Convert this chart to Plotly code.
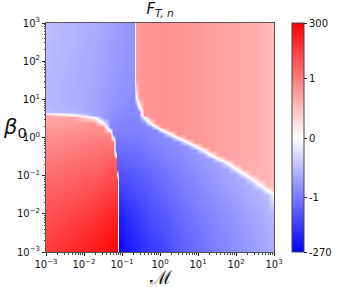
import numpy as np
import plotly.graph_objects as go

# grid nodes (log10 of axis values); nodes follow the sign-change curves seen in the picture
log_M = [-3, -2.3, -1.75, -1.49, -1.32, -1.23, -1.17, -1.13, -1.08, -0.9, -0.69, -0.63,
         -0.56, -0.43, -0.27, -0.11, 0.05, 0.26, 0.48, 0.70, 0.91, 1.13, 1.35, 1.56,
         1.78, 2.0, 2.21, 2.43, 2.64, 2.82, 3]
log_beta = [-3, -2, -1.5, -1.37, -1.24, -1.10, -0.96, -0.82, -0.68, -0.57, -0.46, -0.34,
            -0.22, -0.12, -0.02, 0.08, 0.20, 0.27, 0.39, 0.53, 0.60, 0.67, 0.81, 1.07,
            1.5, 2, 3]

# F_{T,n}, one list per beta_0 node (bottom to top)
F_m300 = [18.4, 42.5, 89.5, 143, 197, 238, 273, 300, -270, -106, -60.8, -50.5, -42.0, -28.9, -19.9, -16.5, -13.1, -7.85, -4.49, -2.96, -2.04, -1.40, -1.01, -0.942, -0.890, -0.837, -0.793, -0.748, -0.703, -0.658, -0.613]
F_m200 = [6.30, 12.1, 22.1, 33.6, 44.5, 53.6, 58.9, 64.6, -66.8, -33.2, -20.9, -18.1, -15.1, -11.4, -8.22, -6.22, -4.49, -3.10, -2.04, -1.40, -1.01, -0.950, -0.905, -0.852, -0.808, -0.763, -0.718, -0.673, -0.628, -0.583, -0.538]
F_m150 = [3.29, 5.74, 9.58, 13.9, 17.5, 20.2, 22.1, 23.2, -20.9, -13.1, -9.46, -8.22, -7.16, -5.67, -4.09, -3.24, -2.57, -1.77, -1.28, -0.980, -0.927, -0.875, -0.830, -0.785, -0.740, -0.695, -0.650, -0.606, -0.553, -0.516, 0]
F_m137 = [2.86, 4.77, 7.59, 11.0, 13.9, 16.0, 17.5, 18.4, -15.1, -10.4, -7.85, -7.16, -6.22, -4.71, -3.56, -2.83, -2.23, -1.61, -1.11, -0.965, -0.912, -0.860, -0.808, -0.763, -0.718, -0.673, -0.628, -0.583, -0.546, 0, 0.518]
F_m124 = [2.37, 3.96, 6.30, 8.73, 10.5, 12.1, 13.3, 13.9, -11.4, -8.22, -6.52, -5.94, -5.17, -4.09, -3.10, -2.45, -1.94, -1.40, -1.01, -0.942, -0.890, -0.845, -0.793, -0.748, -0.703, -0.658, -0.613, -0.576, 0, 0.555, 0.518]
F_m110 = [1.97, 3.14, 4.99, 6.60, 7.95, 9.14, 9.58, 10.0, -8.62, -6.52, -5.41, -4.93, -4.29, -3.40, -2.69, -2.13, -1.69, -1.22, -0.980, -0.927, -0.875, -0.830, -0.778, -0.733, -0.688, -0.643, -0.606, 0, 0.585, 0.555, 0.518]
F_m096 = [1.635, 2.60, 3.96, 5.23, 6.30, 6.92, 7.25, 0, -6.52, -5.17, -4.49, -4.09, -3.73, -2.96, -2.34, -1.86, -1.47, -1.06, -0.957, -0.905, -0.852, -0.808, -0.763, -0.718, -0.665, -0.628, 0, 0.615, 0.585, 0.555, 0.518]
F_m082 = [1.357, 2.06, 2.99, 4.15, 4.77, 5.23, 5.48, -4.93, -4.49, -3.91, -3.40, -3.24, -2.96, -2.34, -1.86, -1.54, -1.22, -0.987, -0.935, -0.882, -0.837, -0.785, -0.740, -0.695, -0.650, 0, 0.645, 0.615, 0.585, 0.555, 0.518]
F_m068 = [1.076, 1.635, 2.37, 3.14, 3.61, 3.96, 3.96, -3.73, -3.40, -2.96, -2.57, -2.45, -2.23, -1.86, -1.47, -1.22, -1.01, -0.957, -0.912, -0.860, -0.815, -0.770, -0.718, -0.680, 0, 0.675, 0.645, 0.615, 0.585, 0.555, 0.518]
F_m057 = [0.989, 1.357, 1.97, 2.60, 2.99, 3.14, 3.29, -2.96, -2.69, -2.45, -2.13, -2.04, -1.94, -1.61, -1.28, -1.06, -0.980, -0.942, -0.890, -0.845, -0.800, -0.755, -0.718, 0, 0.697, 0.675, 0.645, 0.615, 0.585, 0.555, 0.518]
F_m046 = [0.959, 1.13, 1.635, 2.06, 2.37, 2.37, 0, -2.34, -2.13, -1.94, -1.77, -1.69, -1.61, -1.34, -1.11, -0.987, -0.957, -0.912, -0.867, -0.823, -0.778, -0.740, 0, 0.72, 0.697, 0.675, 0.645, 0.615, 0.585, 0.555, 0.518]
F_m034 = [0.929, 0.989, 1.296, 1.635, 1.79, 1.71, -1.94, -1.77, -1.69, -1.54, -1.47, -1.40, -1.34, -1.17, -0.995, -0.972, -0.935, -0.897, -0.852, -0.815, -0.778, 0, 0.742, 0.72, 0.697, 0.675, 0.645, 0.615, 0.585, 0.555, 0.518]
F_m022 = [0.900, 0.959, 1.076, 1.296, 1.357, 1.236, -1.61, -1.47, -1.40, -1.28, -1.22, -1.17, -1.11, -0.995, -0.965, -0.942, -0.912, -0.875, -0.830, -0.793, 0, 0.765, 0.742, 0.72, 0.697, 0.675, 0.645, 0.615, 0.585, 0.555, 0.518]
F_m012 = [0.870, 0.929, 0.982, 1.03, 1.03, 0.997, -1.34, -1.22, -1.17, -1.11, -1.06, -1.01, -0.995, -0.980, -0.950, -0.927, -0.897, -0.867, -0.837, 0, 0.787, 0.765, 0.742, 0.72, 0.697, 0.675, 0.645, 0.615, 0.585, 0.555, 0.518]
F_m002 = [0.847, 0.900, 0.944, 0.967, 0.959, 0, -1.11, -1.06, -1.01, -0.995, -0.987, -0.980, -0.972, -0.957, -0.927, -0.905, -0.875, -0.852, 0, 0.802, 0.787, 0.765, 0.742, 0.72, 0.697, 0.675, 0.645, 0.615, 0.585, 0.555, 0.518]
F_p008 = [0.817, 0.862, 0.907, 0.922, 0.914, -0.942, -0.957, -0.965, -0.972, -0.972, -0.972, -0.965, -0.957, -0.942, -0.927, -0.905, -0.882, 0, 0.817, 0.802, 0.787, 0.765, 0.742, 0.72, 0.697, 0.675, 0.645, 0.615, 0.585, 0.555, 0.518]
F_p020 = [0.780, 0.825, 0.870, 0.870, 0, -0.912, -0.927, -0.935, -0.942, -0.950, -0.950, -0.942, -0.935, -0.920, -0.897, -0.875, 0, 0.825, 0.817, 0.802, 0.787, 0.765, 0.742, 0.72, 0.697, 0.675, 0.645, 0.615, 0.585, 0.555, 0.518]
F_p027 = [0.750, 0.795, 0.832, 0.832, -0.867, -0.897, -0.912, -0.920, -0.927, -0.935, -0.935, -0.927, -0.920, -0.905, -0.882, 0, 0.832, 0.825, 0.817, 0.802, 0.787, 0.765, 0.742, 0.72, 0.697, 0.675, 0.645, 0.615, 0.585, 0.555, 0.518]
F_p039 = [0.720, 0.757, 0.795, 0, -0.852, -0.882, -0.897, -0.905, -0.912, -0.927, -0.927, -0.920, -0.912, -0.890, 0, 0.825, 0.832, 0.825, 0.817, 0.802, 0.787, 0.765, 0.742, 0.72, 0.697, 0.675, 0.645, 0.615, 0.585, 0.555, 0.518]
F_p053 = [0.682, 0.720, 0, -0.778, -0.823, -0.852, -0.867, -0.875, -0.882, -0.905, -0.912, -0.905, -0.890, 0, 0.81, 0.825, 0.832, 0.825, 0.817, 0.802, 0.787, 0.765, 0.742, 0.72, 0.697, 0.675, 0.645, 0.615, 0.585, 0.555, 0.518]
F_p060 = [0.660, 0, -0.665, -0.763, -0.808, -0.837, -0.852, -0.860, -0.867, -0.890, -0.905, -0.897, -0.882, 0.795, 0.81, 0.825, 0.832, 0.825, 0.817, 0.802, 0.787, 0.765, 0.742, 0.72, 0.697, 0.675, 0.645, 0.615, 0.585, 0.555, 0.518]
F_p067 = [-0.493, -0.568, -0.665, -0.740, -0.793, -0.823, -0.837, -0.845, -0.852, -0.875, -0.897, -0.890, -0.867, 0.795, 0.81, 0.825, 0.832, 0.825, 0.817, 0.802, 0.787, 0.765, 0.742, 0.72, 0.697, 0.675, 0.645, 0.615, 0.585, 0.555, 0.518]
F_p081 = [-0.516, -0.590, -0.673, -0.733, -0.778, -0.800, -0.815, -0.823, -0.830, -0.852, -0.875, -0.867, 0, 0.795, 0.81, 0.825, 0.832, 0.825, 0.817, 0.802, 0.787, 0.765, 0.742, 0.72, 0.697, 0.675, 0.645, 0.615, 0.585, 0.555, 0.518]
F_p107 = [-0.538, -0.606, -0.673, -0.725, -0.755, -0.778, -0.793, -0.800, -0.808, -0.830, -0.852, 0, 0.757, 0.795, 0.81, 0.825, 0.832, 0.825, 0.817, 0.802, 0.787, 0.765, 0.742, 0.72, 0.697, 0.675, 0.645, 0.615, 0.585, 0.555, 0.518]
F_p150 = [-0.531, -0.598, -0.658, -0.703, -0.733, -0.748, -0.763, -0.770, -0.778, -0.800, -0.823, 0.72, 0.757, 0.795, 0.81, 0.825, 0.832, 0.825, 0.817, 0.802, 0.787, 0.765, 0.742, 0.72, 0.697, 0.675, 0.645, 0.615, 0.585, 0.555, 0.518]
F_p200 = [-0.508, -0.583, -0.643, -0.688, -0.718, -0.733, -0.748, -0.755, -0.763, -0.785, -0.808, 0.72, 0.757, 0.795, 0.81, 0.825, 0.832, 0.825, 0.817, 0.802, 0.787, 0.765, 0.742, 0.72, 0.697, 0.675, 0.645, 0.615, 0.585, 0.555, 0.518]
F_p300 = [-0.478, -0.553, -0.620, -0.665, -0.695, -0.710, -0.725, -0.733, -0.740, -0.763, -0.793, 0.72, 0.757, 0.795, 0.81, 0.825, 0.832, 0.825, 0.817, 0.802, 0.787, 0.765, 0.742, 0.72, 0.697, 0.675, 0.645, 0.615, 0.585, 0.555, 0.49]

F_rows = [F_m300, F_m200, F_m150, F_m137, F_m124, F_m110, F_m096, F_m082, F_m068,
          F_m057, F_m046, F_m034, F_m022, F_m012, F_m002, F_p008, F_p020, F_p027,
          F_p039, F_p053, F_p060, F_p067, F_p081, F_p107, F_p150, F_p200, F_p300]
assert len(F_rows) == len(log_beta)
for row in F_rows:
    assert len(row) == len(log_M), len(row)

F_min, F_max = -270, 300
cbar_values = [-270, -1, 0, 1, 300]
cbar_labels = ["-270", "-1", "0", "1", "300"]
decades = [-3, -2, -1, 0, 1, 2, 3]
decade_labels = ["10<sup>\u22123</sup>", "10<sup>\u22122</sup>", "10<sup>\u22121</sup>", "10<sup>0</sup>",
                 "10<sup>1</sup>", "10<sup>2</sup>", "10<sup>3</sup>"]

LINSCALE = 2.7  # symmetric-log colour norm with linear threshold 1


def symlog(v):
    v = np.asarray(v, dtype=float)
    a = np.abs(v)
    return np.where(a <= 1, v * LINSCALE,
                    np.sign(v) * (LINSCALE + np.log10(np.maximum(a, 1e-12))))


M_vals = [10 ** v for v in log_M]
beta_vals = [10 ** v for v in log_beta]
z_col = symlog(np.array(F_rows))

bwr = [[0, "rgb(0,0,255)"], [0.5, "rgb(255,255,255)"], [1, "rgb(255,0,0)"]]

fig = go.Figure(go.Heatmap(
    x=M_vals, y=beta_vals, z=z_col, zsmooth="best",
    colorscale=bwr, zmin=float(symlog(F_min)), zmax=float(symlog(F_max)),
    hoverinfo="skip",
    colorbar=dict(
        tickvals=list(symlog(cbar_values)), ticktext=cbar_labels,
        thickness=12, len=1, lenmode="fraction", y=0.5, yanchor="middle",
        x=1.078, xanchor="left", xpad=0, ypad=0,
        outlinewidth=1, outlinecolor="#444",
        ticks="outside", ticklen=3, tickcolor="#222",
        tickfont=dict(family="DejaVu Sans", size=10, color="#111"),
    ),
))

axis_common = dict(
    type="log", range=[-3, 3], tickmode="array",
    tickvals=[10 ** d for d in decades], ticktext=decade_labels,
    ticks="outside", ticklen=3, tickcolor="#222",
    showline=True, linecolor="#555", linewidth=1, mirror=True,
    showgrid=False, zeroline=False,
    tickfont=dict(family="DejaVu Sans", size=10, color="#111"),
    minor=dict(ticks="outside", ticklen=1.5, tickcolor="#444", dtick="D1", showgrid=False),
)
fig.update_xaxes(**axis_common)
fig.update_yaxes(**axis_common)

fig.update_layout(
    width=345, height=287,
    margin=dict(l=46, r=68, t=23, b=35),
    paper_bgcolor="white", plot_bgcolor="white",
    title=dict(text="<i>F</i><sub><i>T, n</i></sub>", x=0.5, xref="paper",
               y=1 - 9 / 287, yref="container", yanchor="middle",
               font=dict(family="DejaVu Sans", size=15, color="#111")),
    annotations=[
        dict(text="\u2133", xref="paper", yref="paper", x=0.5, y=-0.11,
             xanchor="center", yanchor="middle", showarrow=False,
             font=dict(family="DejaVu Serif", size=19, color="#111")),
        dict(text="<i>\u03b2</i><sub>0</sub>", xref="paper", yref="paper", x=-0.135, y=0.54,
             xanchor="center", yanchor="middle", showarrow=False,
             font=dict(family="DejaVu Sans", size=21, color="#111")),
    ],
)

fig.write_html("out.html", config={"displayModeBar": False},
               post_script="document.body.style.margin='0';")
